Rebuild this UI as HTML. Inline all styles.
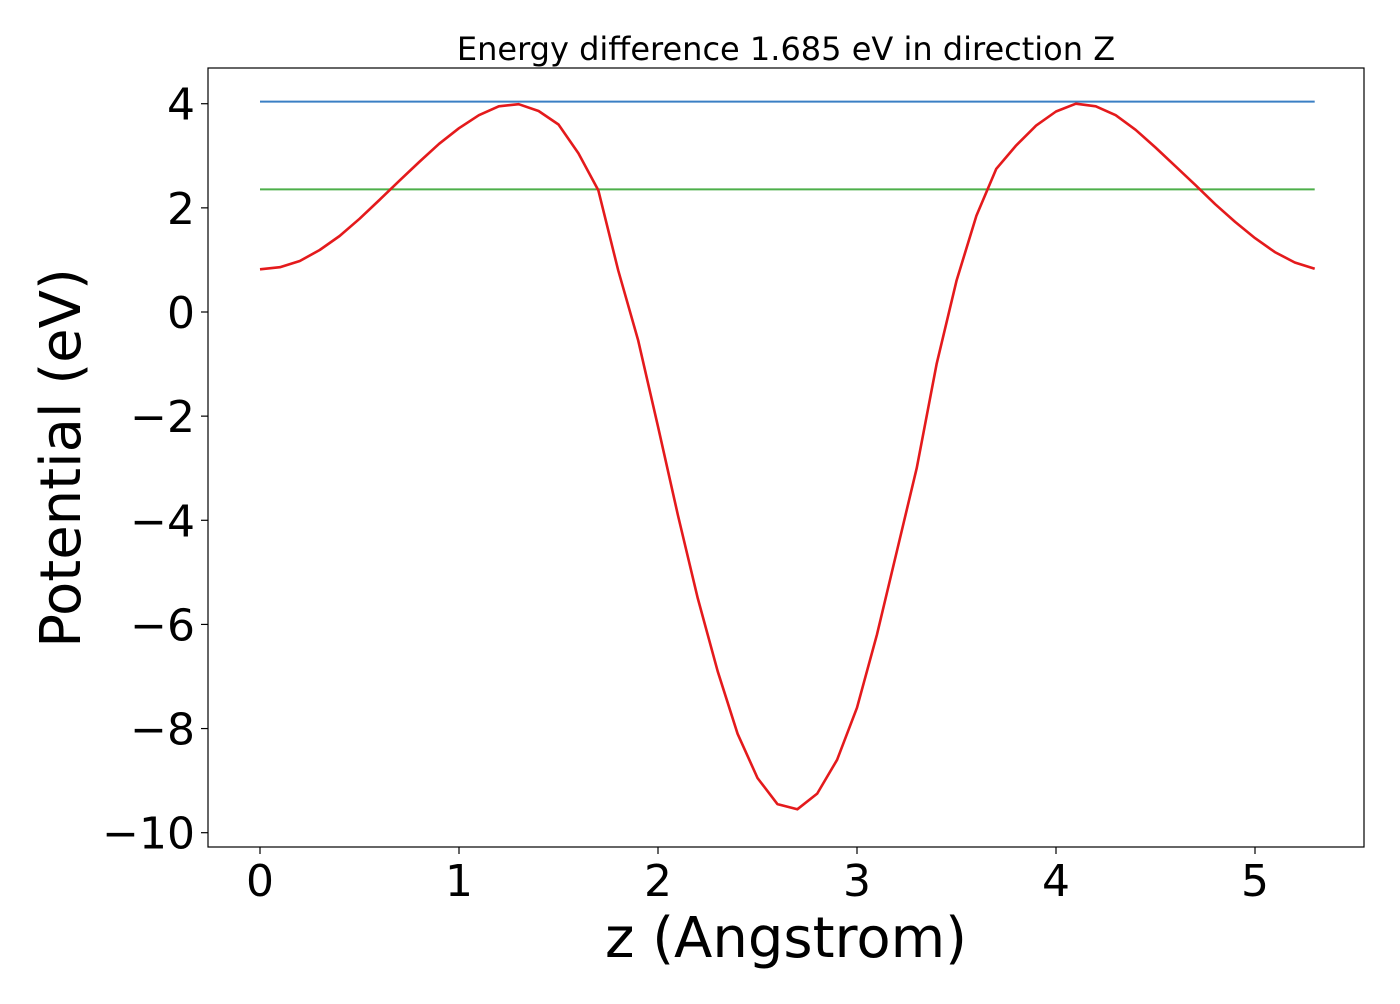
<!DOCTYPE html>
<html><head><meta charset="utf-8"><style>
body{margin:0;background:#fff;font-family:"DejaVu Sans","Liberation Sans",sans-serif}
</style></head><body>
<svg width="1400" height="1000" xmlns="http://www.w3.org/2000/svg" font-family="DejaVu Sans, Liberation Sans, sans-serif">
<rect width="1400" height="1000" fill="#fff"/>
<text x="786" y="60" font-size="32" text-anchor="middle">Energy difference 1.685 eV in direction Z</text>
<g id="plot"></g>
<rect x="208" y="68" width="1156" height="779" fill="none" stroke="#000" stroke-width="1.2"/>
<text x="786" y="957" font-size="56" text-anchor="middle">z (Angstrom)</text>
<text transform="translate(80,458) rotate(-90)" font-size="56" text-anchor="middle">Potential (eV)</text>
</svg>
<script>
const zValues=[0,0.1,0.2,0.3,0.4,0.5,0.6,0.7,0.8,0.9,1.0,1.1,1.2,1.3,1.4,1.5,1.6,1.7,1.8,1.9,2.0,2.1,2.2,2.3,2.4,2.5,2.6,2.7,2.8,2.9,3.0,3.1,3.2,3.3,3.4,3.5,3.6,3.7,3.8,3.9,4.0,4.1,4.2,4.3,4.4,4.5,4.6,4.7,4.8,4.9,5.0,5.1,5.2,5.3];
const potential=[0.82,0.86,0.98,1.19,1.46,1.79,2.15,2.52,2.88,3.23,3.53,3.78,3.95,3.99,3.86,3.6,3.05,2.34,0.8,-0.54,-2.2,-3.9,-5.5,-6.9,-8.1,-8.95,-9.45,-9.55,-9.25,-8.6,-7.6,-6.2,-4.6,-3.0,-1.0,0.6,1.85,2.75,3.2,3.58,3.85,4.0,3.95,3.78,3.5,3.16,2.8,2.44,2.07,1.73,1.42,1.15,0.95,0.83];
const maxLevel=[4.04];
const refLevel=[2.355];
const xTicks=[0,1,2,3,4,5];
const yTicks=[4,2,0,-2,-4,-6,-8,-10];
const NS="http://www.w3.org/2000/svg";
const X=z=>260+199*z;
const Y=v=>312-52.07*v;
const g=document.getElementById('plot');
function mk(t,a){const e=document.createElementNS(NS,t);for(const k in a)e.setAttribute(k,a[k]);return e;}
xTicks.forEach(t=>{
 const l=mk('line',{x1:X(t),x2:X(t),y1:847,y2:854,stroke:'#000','stroke-width':1.2});
 
 
 g.appendChild(l);
 const s=mk('text',{x:X(t),y:896,'font-size':44,'text-anchor':'middle'});
 s.textContent=t;
 
 
 g.appendChild(s);
});
yTicks.forEach(t=>{
 const l=mk('line',{x1:201,x2:208,y1:Y(t),y2:Y(t),stroke:'#000','stroke-width':1.2});
 
 
 g.appendChild(l);
 const s=mk('text',{x:195,y:Y(t)+16,'font-size':44,'text-anchor':'end'});
 s.textContent=t<0?'\u2212'+Math.abs(t):t;
 
 
 g.appendChild(s);
});
const zMax=zValues[zValues.length-1];
const b=mk('line',{x1:X(0),x2:X(zMax),y1:Y(maxLevel[0]),y2:Y(maxLevel[0]),stroke:'#3a7fc4','stroke-width':2});


g.appendChild(b);
const gr=mk('line',{x1:X(0),x2:X(zMax),y1:Y(refLevel[0]),y2:Y(refLevel[0]),stroke:'#4daf4a','stroke-width':2});


g.appendChild(gr);
const pts=zValues.map((z,i)=>X(z).toFixed(1)+','+Y(potential[i]).toFixed(1)).join(' ');
const p=mk('polyline',{points:pts,fill:'none',stroke:'#e41a1c','stroke-width':2.6,'stroke-linejoin':'round'});


g.appendChild(p);
</script>
</body></html>
